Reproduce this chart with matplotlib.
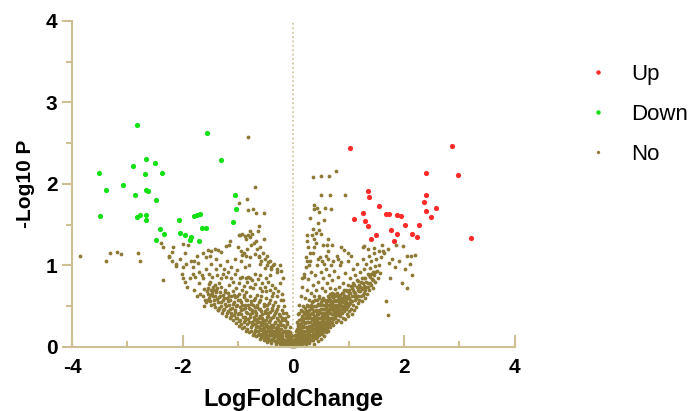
import matplotlib
matplotlib.use('Agg')
import matplotlib.pyplot as plt
from matplotlib.lines import Line2D

# significant up-regulated (logFC, -log10 p)
up_pts = [(1.02, 2.44), (2.87, 2.46), (2.40, 2.13), (2.98, 2.11), (1.34, 1.91), (1.37, 1.84),
          (2.40, 1.87), (2.36, 1.78), (1.54, 1.73), (2.57, 1.71), (2.40, 1.67), (1.25, 1.64),
          (1.68, 1.63), (1.73, 1.63), (1.87, 1.62), (1.95, 1.61), (2.48, 1.59), (1.10, 1.57),
          (1.29, 1.54), (1.34, 1.48), (1.77, 1.44), (2.01, 1.49), (2.27, 1.50), (1.88, 1.38),
          (1.50, 1.37), (2.15, 1.39), (2.24, 1.35), (1.41, 1.33), (1.82, 1.30), (3.21, 1.34)]

# significant down-regulated
down_pts = [(-2.83, 2.72), (-1.56, 2.62), (-1.30, 2.29), (-2.67, 2.31), (-2.89, 2.22), (-2.50, 2.26),
            (-3.51, 2.13), (-2.68, 2.12), (-2.37, 2.13), (-3.07, 1.99), (-3.39, 1.92), (-2.66, 1.92),
            (-2.63, 1.91), (-2.86, 1.87), (-2.49, 1.80), (-1.05, 1.86), (-1.03, 1.69), (-3.50, 1.61),
            (-2.83, 1.60), (-2.77, 1.62), (-2.66, 1.62), (-2.67, 1.56), (-2.06, 1.56), (-1.79, 1.61),
            (-1.74, 1.62), (-1.68, 1.63), (-1.10, 1.53), (-2.41, 1.45), (-2.33, 1.39), (-2.05, 1.40),
            (-1.95, 1.37), (-1.85, 1.35), (-1.87, 1.31), (-1.66, 1.46), (-1.58, 1.46), (-1.71, 1.30),
            (-2.49, 1.31)]

# not significant, left side sparse part
no_left_sparse = [(-3.85, 1.12), (-3.38, 1.05), (-3.31, 1.15), (-3.19, 1.17), (-3.12, 1.14), (-2.81, 1.15),
                  (-2.78, 1.06), (-2.39, 1.27), (-2.36, 1.22), (-2.18, 1.23), (-2.24, 1.11), (-2.20, 1.16),
                  (-2.00, 1.26), (-1.91, 1.25), (-1.55, 1.19), (-1.48, 1.18), (-1.42, 1.20), (-1.36, 1.19),
                  (-1.30, 1.17), (-1.22, 1.24), (-1.15, 1.30), (-1.58, 1.10), (-1.50, 1.11), (-1.40, 1.08),
                  (-1.63, 1.15), (-1.75, 1.12), (-1.85, 1.06), (-1.95, 1.15), (-2.05, 1.08), (-2.12, 1.02),
                  (-0.82, 2.57), (-0.70, 1.96), (-0.84, 1.82), (-0.99, 1.76), (-0.82, 1.68), (-0.73, 1.69),
                  (-0.67, 1.64), (-0.54, 1.64), (-0.63, 1.48), (-0.64, 1.42), (-0.54, 1.33), (-0.99, 1.37),
                  (-0.93, 1.38), (-0.82, 1.37), (-0.78, 1.35), (-0.93, 1.13), (-0.86, 1.12), (-0.78, 1.10),
                  (-0.70, 1.14), (-0.62, 1.11), (-0.55, 1.15), (-0.47, 1.12), (-0.43, 1.05), (-0.60, 1.02),
                  (-0.52, 0.97), (-0.40, 0.95), (-0.36, 1.00), (-0.30, 0.92), (-0.97, 1.37), (-0.88, 1.36),
                  (-0.85, 1.33), (-0.75, 1.38), (-0.78, 1.42), (-1.16, 1.25),
                  (-2.24, 1.10), (-2.20, 1.05), (-2.12, 0.99), (-2.00, 0.98), (-1.94, 1.02), (-1.82, 0.98),
                  (-1.79, 1.06), (-1.73, 1.03), (-2.02, 0.90), (-2.00, 0.84), (-1.96, 0.80), (-1.86, 0.84),
                  (-1.82, 0.90), (-1.78, 0.86), (-1.70, 0.92), (-1.66, 0.88), (-1.63, 0.84), (-1.58, 0.95),
                  (-2.35, 0.82), (-1.52, 0.90), (-1.47, 0.86), (-1.50, 0.80), (-1.42, 0.76), (-1.38, 0.72),
                  (-1.35, 0.78), (-1.30, 0.84), (-1.21, 0.86), (-1.18, 0.92), (-1.45, 0.70), (-1.55, 0.65),
                  (-1.60, 0.58), (-1.62, 0.50), (-1.37, 0.45), (-1.92, 0.74), (-1.80, 0.70), (-1.70, 0.78),
                  (-1.68, 0.65), (-1.75, 0.62),
                  (-1.00, 1.22), (-0.95, 1.18), (-0.90, 1.15), (-0.83, 1.20), (-0.77, 1.25), (-0.72, 1.28),
                  (-0.68, 1.30), (-0.66, 1.20), (-0.60, 1.22), (-0.63, 1.10), (-0.58, 1.05), (-0.52, 1.08),
                  (-0.48, 1.00), (-0.45, 1.04), (-0.40, 0.98), (-0.35, 1.02), (-0.30, 0.96), (-0.25, 1.00),
                  (-0.22, 0.93), (-0.95, 1.05), (-0.88, 0.98), (-0.80, 1.00), (-0.97, 0.85), (-0.92, 0.86),
                  (-0.86, 0.85), (-0.82, 0.86), (-0.78, 0.84), (-1.05, 0.90), (-1.10, 0.80), (-0.70, 0.90),
                  (-0.60, 0.88), (-0.50, 0.85), (-0.42, 0.88),
                  (-1.48, 1.02), (-1.40, 0.95), (-1.33, 1.00), (-1.26, 0.96), (-1.20, 1.05), (-1.12, 0.98),
                  (-1.06, 1.08), (-1.02, 0.94), (-1.38, 0.88), (-1.28, 0.90), (-1.12, 0.85)]

# not significant, left arm dense part
no_left_dense = [(-1.64, 0.62), (-1.61, 0.71), (-1.58, 0.55), (-1.56, 0.68), (-1.53, 0.77), (-1.52, 0.60),
                 (-1.49, 0.52), (-1.47, 0.66), (-1.46, 0.74), (-1.44, 0.58), (-1.42, 0.49), (-1.41, 0.63),
                 (-1.39, 0.70), (-1.37, 0.45), (-1.36, 0.55), (-1.34, 0.61), (-1.33, 0.67), (-1.31, 0.50),
                 (-1.30, 0.74), (-1.29, 0.42), (-1.28, 0.57), (-1.27, 0.64), (-1.25, 0.47), (-1.24, 0.53),
                 (-1.23, 0.70), (-1.21, 0.38), (-1.20, 0.60), (-1.19, 0.44), (-1.18, 0.66), (-1.17, 0.51),
                 (-1.16, 0.76), (-1.15, 0.35), (-1.14, 0.57), (-1.13, 0.62), (-1.12, 0.42), (-1.11, 0.48),
                 (-1.10, 0.68), (-1.09, 0.33), (-1.08, 0.55), (-1.07, 0.39), (-1.06, 0.61), (-1.05, 0.45),
                 (-1.04, 0.72), (-1.03, 0.29), (-1.02, 0.52), (-1.01, 0.36), (-1.00, 0.58), (-0.99, 0.42),
                 (-0.99, 0.65), (-0.98, 0.26), (-0.97, 0.49), (-0.96, 0.33), (-0.95, 0.55), (-0.94, 0.40),
                 (-0.93, 0.70), (-0.92, 0.23), (-0.91, 0.46), (-0.90, 0.30), (-0.89, 0.61), (-0.88, 0.37),
                 (-0.87, 0.52), (-0.86, 0.20), (-0.86, 0.43), (-0.85, 0.67), (-0.84, 0.28), (-0.83, 0.57),
                 (-0.82, 0.34), (-0.81, 0.48), (-0.80, 0.18), (-0.79, 0.40), (-0.78, 0.62), (-0.77, 0.25),
                 (-0.76, 0.53), (-0.75, 0.31), (-0.74, 0.45), (-0.73, 0.15), (-0.73, 0.72), (-0.72, 0.37),
                 (-0.71, 0.58), (-0.70, 0.21), (-0.70, 0.49), (-0.69, 0.28), (-0.68, 0.42), (-0.67, 0.13),
                 (-0.66, 0.64), (-0.66, 0.34), (-0.65, 0.52), (-0.64, 0.19), (-0.63, 0.46), (-0.62, 0.25),
                 (-0.61, 0.38), (-0.60, 0.10), (-0.60, 0.57), (-0.59, 0.31), (-0.58, 0.44), (-0.57, 0.16),
                 (-0.56, 0.68), (-0.56, 0.36), (-0.55, 0.22), (-0.54, 0.50), (-0.53, 0.08), (-0.53, 0.29),
                 (-0.52, 0.41), (-0.51, 0.14), (-0.50, 0.60), (-0.50, 0.33), (-0.49, 0.20), (-0.48, 0.46),
                 (-0.47, 0.06), (-0.47, 0.26), (-0.46, 0.38), (-0.45, 0.12), (-0.44, 0.54), (-0.44, 0.30),
                 (-0.43, 0.17), (-0.42, 0.43), (-0.41, 0.23), (-0.40, 0.05), (-0.40, 0.35), (-0.39, 0.63),
                 (-0.38, 0.14), (-0.38, 0.48), (-0.37, 0.27), (-0.36, 0.09), (-0.35, 0.39), (-0.35, 0.19),
                 (-0.34, 0.55), (-0.33, 0.31), (-0.32, 0.04), (-0.32, 0.23), (-0.31, 0.44), (-0.30, 0.13),
                 (-0.30, 0.35), (-0.29, 0.07), (-0.28, 0.27), (-0.28, 0.50), (-0.27, 0.18), (-0.26, 0.40),
                 (-0.25, 0.03), (-0.25, 0.11), (-0.24, 0.31), (-0.23, 0.22), (-0.23, 0.58), (-0.22, 0.06),
                 (-0.21, 0.45), (-0.21, 0.15), (-0.20, 0.36), (-0.19, 0.02), (-0.19, 0.27), (-0.18, 0.10),
                 (-0.17, 0.50), (-0.17, 0.19), (-0.16, 0.33), (-0.15, 0.04), (-0.15, 0.25), (-0.14, 0.13),
                 (-0.13, 0.42), (-0.13, 0.07), (-0.12, 0.20), (-0.11, 0.30), (-0.11, 0.02), (-0.10, 0.12),
                 (-0.09, 0.38), (-0.09, 0.06), (-0.08, 0.17), (-0.07, 0.25), (-0.07, 0.03), (-0.06, 0.10),
                 (-0.05, 0.14), (-0.05, 0.01), (-0.04, 0.06), (-0.03, 0.09), (-0.03, 0.02), (-0.02, 0.04),
                 (-0.01, 0.01),
                 (-0.98, 0.78), (-0.90, 0.75), (-0.84, 0.80), (-0.79, 0.73), (-0.74, 0.82), (-0.69, 0.77),
                 (-0.64, 0.83), (-0.61, 0.72), (-0.57, 0.79), (-0.52, 0.74), (-0.49, 0.68), (-0.46, 0.80),
                 (-0.43, 0.70), (-0.39, 0.76), (-0.36, 0.66), (-0.33, 0.72), (-0.30, 0.62), (-0.27, 0.68),
                 (-0.24, 0.78), (-0.21, 0.65), (-0.19, 0.84), (-0.18, 0.58)]

no_left_fill = [(-1.55, 0.58), (-1.54, 0.72), (-1.51, 0.64), (-1.50, 0.56), (-1.48, 0.70), (-1.45, 0.62),
                (-1.43, 0.53), (-1.40, 0.67), (-1.38, 0.59), (-1.35, 0.48), (-1.32, 0.63), (-1.30, 0.55),
                (-1.28, 0.45), (-1.26, 0.60), (-1.24, 0.67), (-1.22, 0.50), (-1.20, 0.42), (-1.18, 0.56),
                (-1.16, 0.63), (-1.14, 0.47), (-1.12, 0.38), (-1.10, 0.53), (-1.08, 0.64), (-1.06, 0.43),
                (-1.04, 0.35), (-1.03, 0.50), (-1.01, 0.62), (-1.00, 0.40), (-0.98, 0.32), (-0.97, 0.57),
                (-0.95, 0.45), (-0.94, 0.28), (-0.93, 0.52), (-0.91, 0.37), (-0.90, 0.64), (-0.89, 0.25),
                (-0.88, 0.48), (-0.87, 0.33), (-0.85, 0.58), (-0.84, 0.41), (-0.83, 0.22), (-0.82, 0.51),
                (-0.80, 0.30), (-0.79, 0.46), (-0.78, 0.37), (-0.77, 0.56), (-0.76, 0.19), (-0.75, 0.42),
                (-0.74, 0.27), (-0.73, 0.52), (-0.72, 0.33), (-0.71, 0.17), (-0.70, 0.44), (-0.69, 0.60),
                (-0.68, 0.24), (-0.67, 0.39), (-0.66, 0.49), (-0.65, 0.30), (-0.64, 0.14), (-0.63, 0.55),
                (-0.62, 0.36), (-0.61, 0.21), (-0.60, 0.47), (-0.59, 0.27), (-0.58, 0.62), (-0.57, 0.40),
                (-0.56, 0.12), (-0.55, 0.33), (-0.54, 0.25), (-0.53, 0.53), (-0.52, 0.19), (-0.51, 0.44),
                (-0.50, 0.28), (-0.49, 0.10), (-0.48, 0.37), (-0.47, 0.51), (-0.46, 0.23), (-0.45, 0.42),
                (-0.44, 0.08), (-0.43, 0.33), (-0.42, 0.58), (-0.41, 0.15), (-0.40, 0.27), (-0.39, 0.45),
                (-0.38, 0.20), (-0.37, 0.37), (-0.36, 0.52), (-0.35, 0.12), (-0.34, 0.29), (-0.33, 0.41),
                (-0.32, 0.16), (-0.31, 0.06), (-0.30, 0.24), (-0.29, 0.46), (-0.28, 0.33), (-0.27, 0.11),
                (-0.26, 0.21), (-0.25, 0.38), (-0.24, 0.14), (-0.23, 0.05), (-0.22, 0.27), (-0.21, 0.33),
                (-0.20, 0.10), (-0.19, 0.42), (-0.18, 0.18), (-0.17, 0.06), (-0.16, 0.24), (-0.15, 0.35),
                (-0.14, 0.09), (-0.13, 0.16), (-0.12, 0.28), (-0.11, 0.08), (-0.10, 0.20), (-0.09, 0.13),
                (-0.08, 0.04), (-0.07, 0.11), (-0.06, 0.18), (-0.05, 0.07), (-0.04, 0.03), (-0.03, 0.13),
                (-0.02, 0.08), (-0.02, 0.01), (-0.01, 0.04)]

# not significant, right arm dense part
no_right_dense = [(0.01, 0.01), (0.02, 0.05), (0.03, 0.02), (0.03, 0.10), (0.04, 0.07), (0.05, 0.15),
                  (0.05, 0.03), (0.06, 0.22), (0.07, 0.11), (0.07, 0.30), (0.08, 0.05), (0.08, 0.18),
                  (0.09, 0.40), (0.09, 0.26), (0.10, 0.09), (0.10, 0.52), (0.11, 0.14), (0.11, 0.33),
                  (0.12, 0.02), (0.12, 0.21), (0.13, 0.45), (0.13, 0.62), (0.14, 0.08), (0.14, 0.28),
                  (0.15, 0.17), (0.15, 0.38), (0.16, 0.73), (0.16, 0.04), (0.17, 0.24), (0.17, 0.50),
                  (0.18, 0.12), (0.18, 0.34), (0.19, 0.86), (0.19, 0.20), (0.20, 0.43), (0.20, 0.06),
                  (0.21, 0.29), (0.21, 0.60), (0.22, 0.15), (0.22, 0.98), (0.23, 0.37), (0.23, 0.03),
                  (0.24, 0.52), (0.24, 0.23), (0.25, 0.70), (0.25, 0.10), (0.26, 0.31), (0.26, 0.44),
                  (0.27, 0.17), (0.27, 0.83), (0.28, 0.05), (0.28, 0.58), (0.29, 0.26), (0.29, 0.38),
                  (0.30, 1.05), (0.30, 0.13), (0.31, 0.48), (0.31, 0.66), (0.32, 0.21), (0.32, 0.92),
                  (0.33, 0.34), (0.33, 0.08), (0.34, 0.55), (0.34, 0.42), (0.35, 0.16), (0.35, 0.76),
                  (0.36, 0.28), (0.36, 1.15), (0.37, 0.63), (0.37, 0.04), (0.38, 0.37), (0.38, 0.50),
                  (0.39, 0.22), (0.39, 0.88), (0.40, 0.11), (0.40, 0.45), (0.41, 0.31), (0.41, 0.70),
                  (0.42, 0.57), (0.42, 0.18), (0.43, 1.00), (0.43, 0.40), (0.44, 0.25), (0.44, 0.07),
                  (0.45, 0.51), (0.45, 0.80), (0.46, 0.35), (0.46, 0.14), (0.47, 0.62), (0.47, 0.44),
                  (0.48, 0.21), (0.48, 1.10), (0.49, 0.29), (0.49, 0.92), (0.50, 0.55), (0.50, 0.10),
                  (0.51, 0.38), (0.51, 0.72), (0.52, 0.17), (0.52, 0.47), (0.53, 0.26), (0.53, 0.84),
                  (0.54, 0.60), (0.54, 0.33), (0.55, 0.13), (0.55, 1.02), (0.56, 0.42), (0.56, 0.22),
                  (0.57, 0.68), (0.57, 0.51), (0.58, 0.30), (0.58, 0.95), (0.59, 0.18), (0.59, 0.39),
                  (0.60, 0.78), (0.60, 0.57), (0.61, 0.26), (0.61, 0.46), (0.62, 0.63), (0.62, 1.08),
                  (0.63, 0.34), (0.63, 0.20), (0.64, 0.52), (0.64, 0.88), (0.65, 0.41), (0.65, 0.29),
                  (0.66, 0.72), (0.66, 0.24), (0.67, 0.58), (0.67, 0.47), (0.68, 0.36), (0.68, 1.00),
                  (0.69, 0.66), (0.69, 0.31), (0.70, 0.54), (0.70, 0.82), (0.71, 0.40), (0.72, 0.27),
                  (0.72, 0.61), (0.73, 0.48), (0.74, 0.93), (0.74, 0.35), (0.75, 0.71), (0.76, 0.44),
                  (0.76, 0.56), (0.77, 0.30), (0.78, 1.12), (0.78, 0.64), (0.79, 0.39), (0.80, 0.50),
                  (0.80, 0.86), (0.81, 0.33), (0.82, 0.59), (0.82, 0.45), (0.83, 0.74), (0.84, 0.38),
                  (0.85, 0.53), (0.85, 1.00), (0.86, 0.31), (0.87, 0.66), (0.87, 0.47), (0.88, 0.41),
                  (0.89, 0.79), (0.89, 0.57), (0.90, 0.36), (0.90, 0.50), (0.91, 0.62), (0.92, 0.44),
                  (0.93, 0.91), (0.93, 0.34), (0.94, 0.55), (0.95, 0.70), (0.96, 0.40), (0.96, 0.49),
                  (0.97, 0.60), (0.98, 1.05), (0.98, 0.38), (0.99, 0.76), (1.00, 0.53), (1.01, 0.44),
                  (1.01, 0.66), (1.02, 0.85), (1.03, 0.58), (1.04, 0.47), (1.05, 0.72), (1.05, 0.40),
                  (1.06, 0.62), (1.07, 0.95), (1.08, 0.52), (1.08, 0.79), (1.09, 0.45), (1.10, 0.67),
                  (1.11, 0.57), (1.12, 0.88), (1.13, 0.49), (1.14, 0.73), (1.15, 0.62), (1.15, 1.02),
                  (1.16, 0.54), (1.17, 0.81), (1.18, 0.68), (1.19, 0.58), (1.20, 0.92), (1.21, 0.74),
                  (1.22, 0.63), (1.23, 0.85), (1.24, 0.56), (1.25, 1.08), (1.25, 0.71), (1.26, 0.79),
                  (1.27, 0.66), (1.28, 0.95), (1.29, 0.60), (1.30, 0.84), (1.31, 0.73), (1.32, 1.02),
                  (1.33, 0.65), (1.34, 0.90), (1.35, 0.78), (1.36, 1.12), (1.37, 0.70), (1.38, 0.86),
                  (1.39, 0.97), (1.40, 0.76), (1.41, 1.05), (1.42, 0.83), (1.43, 0.92), (1.44, 0.72),
                  (1.45, 1.15), (1.46, 0.88), (1.47, 0.99), (1.48, 0.80), (1.50, 1.08), (1.51, 0.93),
                  (1.52, 0.85), (1.54, 1.18), (1.55, 1.00), (1.57, 0.91), (1.58, 1.10), (1.60, 1.25)]

no_right_fill = [(0.01, 0.04), (0.02, 0.09), (0.02, 0.01), (0.03, 0.15), (0.04, 0.03), (0.04, 0.19),
                 (0.05, 0.09), (0.06, 0.13), (0.06, 0.04), (0.07, 0.20), (0.08, 0.08), (0.08, 0.28),
                 (0.09, 0.14), (0.10, 0.22), (0.10, 0.03), (0.11, 0.07), (0.11, 0.42), (0.12, 0.27),
                 (0.12, 0.12), (0.13, 0.18), (0.13, 0.34), (0.14, 0.05), (0.14, 0.23), (0.15, 0.11),
                 (0.15, 0.30), (0.16, 0.44), (0.16, 0.19), (0.17, 0.08), (0.17, 0.36), (0.18, 0.26),
                 (0.18, 0.15), (0.19, 0.05), (0.19, 0.40), (0.20, 0.30), (0.20, 0.18), (0.21, 0.10),
                 (0.21, 0.48), (0.22, 0.24), (0.22, 0.35), (0.23, 0.14), (0.23, 0.44), (0.24, 0.07),
                 (0.24, 0.31), (0.25, 0.19), (0.25, 0.40), (0.26, 0.12), (0.26, 0.25), (0.27, 0.35),
                 (0.27, 0.50), (0.28, 0.21), (0.28, 0.10), (0.29, 0.45), (0.29, 0.16), (0.30, 0.30),
                 (0.30, 0.40), (0.31, 0.08), (0.31, 0.24), (0.32, 0.35), (0.32, 0.52), (0.33, 0.15),
                 (0.33, 0.27), (0.34, 0.46), (0.34, 0.20), (0.35, 0.33), (0.35, 0.09), (0.36, 0.40),
                 (0.36, 0.56), (0.37, 0.22), (0.37, 0.30), (0.38, 0.14), (0.38, 0.44), (0.39, 0.33),
                 (0.39, 0.58), (0.40, 0.25), (0.40, 0.38), (0.41, 0.18), (0.41, 0.50), (0.42, 0.29),
                 (0.42, 0.44), (0.43, 0.12), (0.43, 0.34), (0.44, 0.53), (0.44, 0.40), (0.45, 0.21),
                 (0.45, 0.30), (0.46, 0.45), (0.46, 0.60), (0.47, 0.27), (0.47, 0.17), (0.48, 0.36),
                 (0.48, 0.52), (0.49, 0.42), (0.49, 0.23), (0.50, 0.31), (0.50, 0.46), (0.51, 0.16),
                 (0.51, 0.57), (0.52, 0.34), (0.52, 0.28), (0.53, 0.42), (0.53, 0.51), (0.54, 0.22),
                 (0.54, 0.39), (0.55, 0.47), (0.55, 0.30), (0.56, 0.36), (0.56, 0.58), (0.57, 0.25),
                 (0.57, 0.42), (0.58, 0.48), (0.58, 0.37), (0.59, 0.28), (0.59, 0.55), (0.60, 0.44),
                 (0.60, 0.33), (0.61, 0.52), (0.61, 0.38), (0.62, 0.29), (0.62, 0.47), (0.63, 0.56),
                 (0.63, 0.41), (0.64, 0.32), (0.64, 0.45), (0.65, 0.60), (0.65, 0.36), (0.66, 0.50),
                 (0.66, 0.42), (0.67, 0.30), (0.67, 0.65), (0.68, 0.46), (0.68, 0.54), (0.69, 0.40),
                 (0.69, 0.49), (0.70, 0.36), (0.70, 0.62), (0.71, 0.52), (0.71, 0.45), (0.72, 0.34),
                 (0.72, 0.56), (0.73, 0.42), (0.73, 0.65), (0.74, 0.50), (0.74, 0.58), (0.75, 0.38),
                 (0.75, 0.46), (0.76, 0.62), (0.76, 0.35), (0.77, 0.52), (0.77, 0.45), (0.78, 0.58),
                 (0.78, 0.42), (0.79, 0.50), (0.79, 0.66), (0.80, 0.40), (0.80, 0.56), (0.81, 0.47),
                 (0.81, 0.62), (0.82, 0.53), (0.83, 0.42), (0.83, 0.60), (0.84, 0.50), (0.85, 0.45),
                 (0.85, 0.64), (0.86, 0.56), (0.87, 0.50), (0.88, 0.60), (0.88, 0.46), (0.89, 0.66),
                 (0.90, 0.55), (0.91, 0.48), (0.92, 0.60), (0.92, 0.70), (0.93, 0.52), (0.94, 0.63),
                 (0.95, 0.47), (0.95, 0.58), (0.96, 0.68), (0.97, 0.54), (0.98, 0.62), (0.99, 0.50),
                 (1.00, 0.70), (1.00, 0.60), (1.02, 0.54), (1.03, 0.66), (1.04, 0.75), (1.06, 0.56),
                 (1.07, 0.70), (1.09, 0.62), (1.10, 0.76), (1.12, 0.66), (1.13, 0.60), (1.14, 0.82),
                 (1.16, 0.70), (1.17, 0.62), (1.19, 0.76), (1.20, 0.68), (1.22, 0.80), (1.23, 0.72),
                 (1.25, 0.64), (1.27, 0.75), (1.28, 0.85), (1.30, 0.70), (1.32, 0.80), (1.34, 0.74),
                 (1.36, 0.88), (1.38, 0.78), (1.41, 0.90), (1.44, 0.82), (1.47, 0.92)]

# not significant, the packed base of the V
no_base_fill = [(-0.68, 0.20), (-0.66, 0.26), (-0.63, 0.16), (-0.62, 0.30), (-0.60, 0.22), (-0.58, 0.13),
                (-0.57, 0.27), (-0.55, 0.18), (-0.53, 0.23), (-0.52, 0.11), (-0.50, 0.16), (-0.49, 0.26),
                (-0.47, 0.14), (-0.46, 0.20), (-0.44, 0.24), (-0.43, 0.09), (-0.42, 0.15), (-0.40, 0.20),
                (-0.39, 0.10), (-0.37, 0.16), (-0.36, 0.24), (-0.34, 0.07), (-0.33, 0.13), (-0.31, 0.19),
                (-0.30, 0.09), (-0.28, 0.14), (-0.27, 0.23), (-0.26, 0.06), (-0.24, 0.09), (-0.23, 0.17),
                (-0.21, 0.07), (-0.20, 0.13), (-0.18, 0.04), (-0.16, 0.09), (-0.14, 0.18), (-0.12, 0.05),
                (-0.10, 0.08), (-0.08, 0.10), (-0.06, 0.05), (-0.04, 0.09),
                (0.04, 0.12), (0.06, 0.08), (0.08, 0.12), (0.10, 0.16), (0.12, 0.07), (0.14, 0.15),
                (0.16, 0.10), (0.18, 0.07), (0.20, 0.12), (0.22, 0.08), (0.24, 0.15), (0.26, 0.06),
                (0.27, 0.22), (0.29, 0.10), (0.30, 0.19), (0.32, 0.13), (0.34, 0.24), (0.35, 0.12),
                (0.37, 0.17), (0.39, 0.27), (0.40, 0.15), (0.42, 0.23), (0.44, 0.18), (0.45, 0.26),
                (0.47, 0.22), (0.49, 0.17), (0.50, 0.26), (0.52, 0.21), (0.54, 0.27), (0.56, 0.19),
                (0.58, 0.24), (0.60, 0.21), (0.62, 0.25), (0.64, 0.27), (0.66, 0.31), (0.68, 0.29)]

# not significant, right side sparse part
no_right_sparse = [(1.67, 0.56), (1.71, 0.39), (1.73, 1.03), (1.64, 1.15), (1.70, 1.20), (1.78, 1.08),
                   (1.86, 1.25), (1.98, 1.24), (2.06, 1.12), (2.12, 1.12), (1.90, 1.05), (1.97, 0.78),
                   (2.02, 0.95), (2.10, 1.02), (2.19, 1.13), (2.15, 0.88), (2.05, 0.72), (1.61, 1.18),
                   (1.46, 1.21), (1.34, 1.20), (1.28, 1.24), (1.25, 1.23), (0.86, 1.22), (1.83, 0.98),
                   (1.75, 0.85),
                   (0.36, 2.08), (0.50, 2.10), (0.65, 2.10), (0.77, 2.16), (0.50, 1.86), (0.66, 1.86),
                   (0.94, 1.86), (0.38, 1.74), (0.43, 1.70), (0.38, 1.69), (0.57, 1.70), (0.68, 1.69),
                   (0.46, 1.65), (0.35, 1.45), (0.40, 1.40), (0.33, 1.37), (0.47, 1.44), (0.50, 1.38),
                   (0.25, 1.30), (0.62, 1.32), (0.40, 1.28), (0.37, 1.33), (0.23, 1.10), (0.30, 1.15),
                   (0.45, 1.08), (0.52, 1.05), (0.58, 1.12), (0.62, 1.18), (0.80, 1.08), (0.86, 1.04),
                   (0.72, 1.06), (1.04, 1.12), (0.98, 1.15), (0.92, 1.19), (0.70, 1.25), (0.28, 1.00),
                   (0.20, 0.90), (0.15, 0.84), (0.26, 1.22), (0.55, 1.56), (0.44, 1.52), (0.30, 1.58),
                   (0.25, 1.37), (0.38, 1.23), (0.53, 1.25), (0.60, 1.25), (0.24, 1.06)]

legend_labels = ['Up', 'Down', 'No']
colors = ['#ff2a2a', '#14e014', '#8c7a36']
axis_color = '#cdbf92'

no_pts = (no_left_sparse + no_left_dense + no_left_fill + no_base_fill
          + no_right_dense + no_right_fill + no_right_sparse)
up_x, up_y = zip(*up_pts)
down_x, down_y = zip(*down_pts)
no_x, no_y = zip(*no_pts)

plt.rcParams['font.family'] = ['Liberation Sans', 'DejaVu Sans']
plt.rcParams['axes.unicode_minus'] = False

fig = plt.figure(figsize=(6.92, 4.11), dpi=100)
ax = fig.add_axes([0.104, 0.156, 0.640, 0.793])

ax.axvline(0, color=axis_color, linestyle=':', linewidth=1.2, zorder=1)
ax.scatter(no_x, no_y, s=7.5, color=colors[2], linewidths=0, zorder=2, clip_on=False)
ax.scatter(down_x, down_y, s=14, color=colors[1], linewidths=0, zorder=3)
ax.scatter(up_x, up_y, s=14, color=colors[0], linewidths=0, zorder=3)

ax.set_xlim(-4, 4)
ax.set_ylim(0, 4)
ax.set_xticks([-4, -2, 0, 2, 4])
ax.set_xticks([-3, -1, 1, 3], minor=True)
ax.set_yticks([0, 1, 2, 3, 4])
ax.set_yticks([0.5, 1.5, 2.5, 3.5], minor=True)

ax.spines['top'].set_visible(False)
ax.spines['right'].set_visible(False)
for s in ['left', 'bottom']:
    ax.spines[s].set_color(axis_color)
    ax.spines[s].set_linewidth(1.5)

ax.tick_params(axis='x', which='major', direction='in', length=9, width=1.5, color=axis_color, pad=8)
ax.tick_params(axis='x', which='minor', direction='in', length=4.5, width=1.5, color=axis_color)
ax.tick_params(axis='y', which='major', direction='out', length=7.5, width=1.5, color=axis_color, pad=3)
ax.tick_params(axis='y', which='minor', direction='out', length=4, width=1.5, color=axis_color)
for lab in ax.get_xticklabels() + ax.get_yticklabels():
    lab.set_fontsize(15)
    lab.set_fontweight('bold')

ax.set_xlabel('LogFoldChange', fontsize=17, fontweight='bold', labelpad=8)
ax.set_ylabel('-Log10 P', fontsize=15, fontweight='bold', labelpad=8)

handles = [Line2D([], [], marker='o', linestyle='none', markersize=3.2, color=colors[0], markeredgewidth=0),
           Line2D([], [], marker='o', linestyle='none', markersize=3.2, color=colors[1], markeredgewidth=0),
           Line2D([], [], marker='o', linestyle='none', markersize=2.4, color=colors[2], markeredgewidth=0)]
fig.legend(handles, legend_labels, loc='upper left', bbox_to_anchor=(0.851, 0.844), frameon=False,
           fontsize=16, handlelength=0.8, handletextpad=1.1, labelspacing=0.85,
           borderpad=0, borderaxespad=0)

fig.savefig('out.png', dpi=100)
